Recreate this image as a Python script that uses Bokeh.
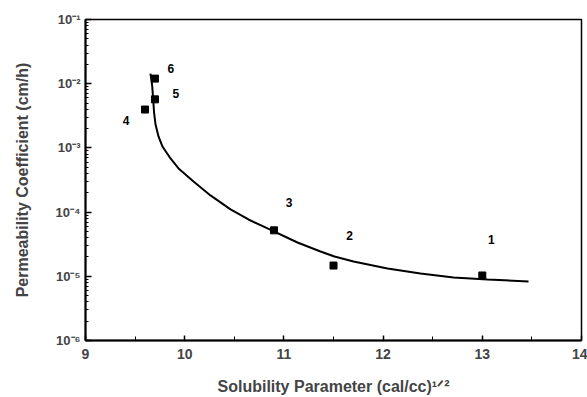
from bokeh.plotting import figure
from bokeh.models import (Range1d, SingleIntervalTicker, LogTicker, CustomJSTickFormatter,
                          ColumnDataSource)
from bokeh.embed import file_html
from bokeh.resources import INLINE
from bokeh.core.properties import value

# measured points (solvent number, solubility parameter, permeability coefficient)
point_labels = ["1", "2", "3", "4", "5", "6"]
solubility = [13.0, 11.5, 10.9, 9.6, 9.7, 9.7]
permeability = [1.03e-5, 1.47e-5, 5.2e-5, 3.96e-3, 5.7e-3, 1.2e-2]

# fitted curve
fit_x = [9.655, 9.672, 9.682, 9.691, 9.706, 9.736, 9.776, 9.857, 9.938, 10.089,
         10.26, 10.462, 10.643, 10.835, 11.137, 11.369, 11.51, 11.702, 12.044,
         12.377, 12.71, 13.052, 13.466]
fit_y = [1.44e-2, 9.37e-3, 5.87e-3, 3.56e-3, 2.31e-3, 1.51e-3, 1.05e-3, 6.84e-4,
         4.78e-4, 3.00e-4, 1.82e-4, 1.10e-4, 7.67e-5, 5.56e-5, 3.36e-5, 2.43e-5,
         2.03e-5, 1.70e-5, 1.32e-5, 1.11e-5, 9.57e-6, 8.91e-6, 8.30e-6]

# screen offsets of the number labels from their points (layout only)
lab_dx = [9, 16, 15, -19, 21, 16]
lab_dy = [-36, -30, -28, 11, -6, -10]

FONT = "Liberation Sans"

p = figure(width=587, height=397, x_range=Range1d(9, 14), y_range=Range1d(1e-6, 1e-1),
           y_axis_type="log", output_backend="svg", toolbar_location=None,
           min_border_left=85, min_border_right=6, min_border_top=19, min_border_bottom=57)
p.background_fill_color = "white"
p.border_fill_color = "white"
p.grid.visible = False
p.outline_line_color = "black"
p.outline_line_width = 1.5

pts = ColumnDataSource(dict(x=solubility, y=permeability, t=point_labels,
                            dx=lab_dx, dy=lab_dy))

p.line(fit_x, fit_y, line_color="black", line_width=2)
p.scatter("x", "y", source=pts, marker="square", size=7, fill_color="black",
          line_color="black")
p.text("x", "y", text="t", source=pts, x_offset="dx", y_offset="dy",
       text_font=value(FONT), text_font_style="bold", text_font_size="12px",
       text_align="center", text_baseline="middle", text_color="black")

# x axis
xa = p.xaxis[0]
xa.ticker = SingleIntervalTicker(interval=1, num_minor_ticks=2)
xa.axis_label = "Solubility Parameter (cal/cc)\u00b9\u141f\u00b2"
xa.axis_label_text_font = FONT
xa.axis_label_text_font_style = "bold"
xa.axis_label_text_font_size = "16px"
xa.axis_label_standoff = 16
xa.major_label_text_font = FONT
xa.major_label_text_font_style = "bold"
xa.major_label_text_font_size = "14px"
xa.major_label_standoff = 8
xa.axis_line_width = 2
xa.major_tick_in = 5
xa.major_tick_out = 0
xa.minor_tick_in = 4
xa.minor_tick_out = 0
xa.major_tick_line_width = 1.5
xa.minor_tick_line_width = 1

# y axis
ya = p.yaxis[0]
ya.ticker = LogTicker(num_minor_ticks=10)
ya.formatter = CustomJSTickFormatter(code="""
const e = Math.round(Math.log10(tick));
const sup = {'-':'\u207b','0':'\u2070','1':'\u00b9','2':'\u00b2','3':'\u00b3','4':'\u2074',
             '5':'\u2075','6':'\u2076','7':'\u2077','8':'\u2078','9':'\u2079'};
return '10' + String(e).split('').map(c => sup[c]).join('');
""")
ya.axis_label = "Permeability Coefficient (cm/h)"
ya.axis_label_text_font = FONT
ya.axis_label_text_font_style = "bold"
ya.axis_label_text_font_size = "16px"
ya.axis_label_standoff = 22
ya.major_label_text_font = FONT
ya.major_label_text_font_style = "bold"
ya.major_label_text_font_size = "13px"
ya.major_label_standoff = 5
ya.axis_line_width = 2
ya.major_tick_in = 6
ya.major_tick_out = 0
ya.minor_tick_in = 3
ya.minor_tick_out = 0
ya.major_tick_line_width = 1.5
ya.minor_tick_line_width = 1

open("out.html", "w").write(file_html(p, INLINE))
